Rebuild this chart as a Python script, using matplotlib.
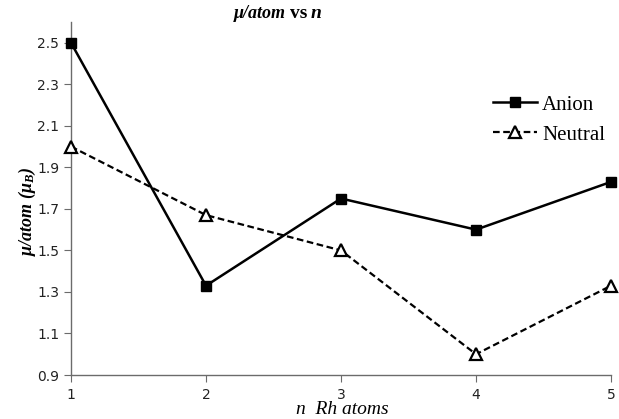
import matplotlib.pyplot as plt
from matplotlib.lines import Line2D

n_atoms = [1, 2, 3, 4, 5]
anion = [2.5, 1.33, 1.75, 1.6, 1.83]
neutral = [2.0, 1.67, 1.5, 1.0, 1.33]
y_ticks = [0.9, 1.1, 1.3, 1.5, 1.7, 1.9, 2.1, 2.3, 2.5]

plt.rcParams['mathtext.fontset'] = 'custom'
plt.rcParams['mathtext.it'] = 'Liberation Serif:italic:bold'
plt.rcParams['mathtext.rm'] = 'Liberation Serif:bold'

fig = plt.figure(figsize=(6.19, 4.19), dpi=100)
ax = fig.add_axes([71/619, 1 - 375/419, 540/619, 353/419])

dash = (0, (3, 1.6))
ax.plot(n_atoms, anion, color='black', lw=1.8, marker='s', ms=7,
        clip_on=False, zorder=3)
ax.plot(n_atoms, neutral, color='black', lw=1.6, ls=dash, marker='^',
        ms=8, mfc='white', mec='black', mew=1.6, clip_on=False, zorder=3)

ax.set_xlim(1, 5)
ax.set_ylim(0.9, 2.6)
ax.set_xticks(n_atoms)
ax.set_yticks(y_ticks)
ax.set_yticklabels([f"{v:.1f}" for v in y_ticks])

for s in ['top', 'right']:
    ax.spines[s].set_visible(False)
for s in ['left', 'bottom']:
    ax.spines[s].set_color('#6b6b6b')
    ax.spines[s].set_linewidth(1.0)
ax.tick_params(axis='both', direction='out', length=5, color='#6b6b6b',
               labelsize=10, labelcolor='#222222')
ax.tick_params(axis='x', pad=4)

serif = 'Liberation Serif'
ty = 1 - 14/419
fig.text(286/619, ty, 'μ/atom', fontfamily=serif, fontsize=13,
         fontstyle='italic', fontweight='bold', ha='right', va='center')
fig.text(290/619, ty, 'vs', fontfamily=serif, fontsize=14,
         fontweight='bold', ha='left', va='center')
fig.text(311/619, ty, 'n', fontfamily=serif, fontsize=14,
         fontstyle='italic', fontweight='bold', ha='left', va='center')

fig.text(342/619, 1/419, 'n  Rh atoms', fontfamily=serif, fontsize=14,
         fontstyle='italic', ha='center', va='bottom')
fig.text(27/619, 1 - 212/419, r'$\mu$/atom ($\mu_B$)', fontfamily=serif,
         fontsize=13, fontstyle='italic', fontweight='bold', rotation=90,
         ha='center', va='center')

handles = [
    Line2D([], [], color='black', lw=1.8, marker='s', ms=7),
    Line2D([], [], color='black', lw=1.6, ls=dash, marker='^', ms=8,
           mfc='white', mec='black', mew=1.6),
]
leg = ax.legend(handles, ['Anion', 'Neutral'], loc='upper left',
                frameon=False, handlelength=2.1, handletextpad=0.25,
                labelspacing=0.5, borderpad=0, borderaxespad=0,
                prop={'family': serif, 'size': 15})
leg.set_bbox_to_anchor((493/619, 1 - 95/419), transform=fig.transFigure)

fig.savefig('out.png', dpi=100)
